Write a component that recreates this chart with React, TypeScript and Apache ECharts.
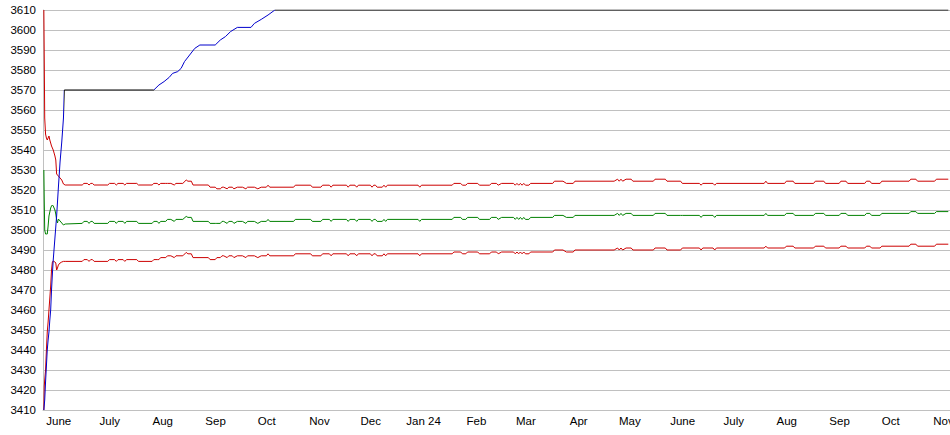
import React, { useEffect, useRef } from 'react';
import * as echarts from 'echarts';

// ---- data ----
const bandDates: string[] = [
  '2023-05-31 12:00', '2023-05-31 18:00', '2023-06-01 00:00', '2023-06-01 12:00', '2023-06-02 00:00', '2023-06-02 12:00', '2023-06-03 00:00', '2023-06-03 12:00', '2023-06-04 00:00', '2023-06-04 12:00',
  '2023-06-05 00:00', '2023-06-05 12:00', '2023-06-06 00:00', '2023-06-06 12:00', '2023-06-07 00:00', '2023-06-07 12:00', '2023-06-08 00:00', '2023-06-08 12:00', '2023-06-09', '2023-06-10',
  '2023-06-11', '2023-06-12', '2023-06-13', '2023-06-23', '2023-06-24', '2023-06-26', '2023-06-27', '2023-06-28', '2023-06-29', '2023-06-30',
  '2023-07-08', '2023-07-09', '2023-07-12', '2023-07-13', '2023-07-14', '2023-07-17', '2023-07-18', '2023-07-19', '2023-07-25', '2023-07-26',
  '2023-08-03', '2023-08-04', '2023-08-06', '2023-08-07', '2023-08-08', '2023-08-11', '2023-08-12', '2023-08-14', '2023-08-16', '2023-08-17',
  '2023-08-21', '2023-08-23', '2023-08-24', '2023-08-26', '2023-08-27', '2023-09-05', '2023-09-06', '2023-09-09', '2023-09-10', '2023-09-12',
  '2023-09-13', '2023-09-14', '2023-09-16', '2023-09-17', '2023-09-19', '2023-09-20', '2023-09-22', '2023-09-25', '2023-09-27', '2023-09-28',
  '2023-10-02', '2023-10-04', '2023-10-06', '2023-10-09', '2023-10-10', '2023-10-11', '2023-10-25', '2023-10-26', '2023-11-04', '2023-11-05',
  '2023-11-10', '2023-11-11', '2023-11-15', '2023-11-16', '2023-11-17', '2023-11-25', '2023-11-26', '2023-11-27', '2023-11-30', '2023-12-01',
  '2023-12-02', '2023-12-09', '2023-12-10', '2023-12-11', '2023-12-12', '2023-12-13', '2023-12-16', '2023-12-17', '2023-12-18', '2023-12-19',
  '2024-01-06', '2024-01-07', '2024-01-08', '2024-01-26', '2024-01-27', '2024-01-31', '2024-02-01', '2024-02-03', '2024-02-04', '2024-02-10',
  '2024-02-11', '2024-02-17', '2024-02-18', '2024-02-21', '2024-02-22', '2024-02-24', '2024-03-02', '2024-03-03', '2024-03-04', '2024-03-05',
  '2024-03-06', '2024-03-07', '2024-03-08', '2024-03-09', '2024-03-11', '2024-03-12', '2024-03-25', '2024-03-26', '2024-03-31', '2024-04-02',
  '2024-04-06', '2024-04-07', '2024-04-30', '2024-05-02', '2024-05-03', '2024-05-04', '2024-05-05', '2024-05-07', '2024-05-10', '2024-05-11',
  '2024-05-23', '2024-05-24', '2024-05-30', '2024-05-31', '2024-06-08', '2024-06-09', '2024-06-19', '2024-06-20', '2024-06-21', '2024-06-27',
  '2024-06-28', '2024-06-29', '2024-07-27', '2024-07-28', '2024-07-29', '2024-08-08', '2024-08-09', '2024-08-13', '2024-08-14', '2024-08-25',
  '2024-08-26', '2024-08-31', '2024-09-01', '2024-09-09', '2024-09-10', '2024-09-13', '2024-09-14', '2024-09-24', '2024-09-25', '2024-09-27',
  '2024-09-28', '2024-10-03', '2024-10-04', '2024-10-20', '2024-10-21', '2024-10-24', '2024-10-25', '2024-11-04', '2024-11-05', '2024-11-12',
];

const upperValues: number[] = [
  3610, 3585, 3556, 3548, 3546, 3545, 3546, 3547, 3545, 3543.5,
  3542, 3541, 3540, 3538.5, 3537, 3535, 3528, 3527.5, 3527, 3526,
  3525, 3523, 3522.5, 3522.5, 3523.3, 3523.3, 3522.5, 3523.3, 3523.3, 3522.5,
  3522.5, 3523.3, 3523.3, 3522.5, 3523.3, 3523.3, 3522.5, 3523.3, 3523.3, 3522.5,
  3522.5, 3523.3, 3523.3, 3522.5, 3523.3, 3523.3, 3523.3, 3523.3, 3522.5, 3523.3,
  3523.3, 3525, 3524.4, 3524.4, 3522.5, 3522.5, 3521.4, 3521.4, 3520.6, 3520.6,
  3521.4, 3521.4, 3520.6, 3521.4, 3521.4, 3520.6, 3521.4, 3521.4, 3520.6, 3521.4,
  3521.4, 3520.6, 3521.4, 3521.4, 3522.4, 3521.4, 3521.4, 3522.4, 3522.4, 3521.4,
  3521.4, 3522.4, 3522.4, 3521.4, 3522.4, 3522.4, 3521.4, 3522.4, 3522.4, 3521.4,
  3522.4, 3522.4, 3521.4, 3522.4, 3522.4, 3521.4, 3521.4, 3522.4, 3521.4, 3522.4,
  3522.4, 3521.4, 3522.4, 3522.4, 3523.3, 3523.3, 3522.4, 3522.4, 3523.3, 3523.3,
  3522.4, 3522.4, 3523.3, 3523.3, 3522.4, 3523.3, 3523.3, 3522.4, 3523.3, 3522.4,
  3523.3, 3522.4, 3523.3, 3522.4, 3522.4, 3523.3, 3523.3, 3524.4, 3524.4, 3523.3,
  3523.3, 3524.4, 3524.4, 3525.4, 3524.4, 3525.4, 3524.4, 3525.4, 3525.4, 3524.4,
  3524.4, 3525.4, 3525.4, 3524.4, 3524.4, 3523.3, 3523.3, 3522.4, 3523.3, 3523.3,
  3522.4, 3523.3, 3523.3, 3524.4, 3523.3, 3523.3, 3524.4, 3524.4, 3523.3, 3523.3,
  3524.4, 3524.4, 3523.3, 3523.3, 3524.4, 3524.4, 3523.3, 3523.3, 3524.4, 3524.4,
  3523.3, 3523.3, 3524.4, 3524.4, 3525.4, 3525.4, 3524.4, 3524.4, 3525.4, 3525.4,
];

const midValues: number[] = [
  3530, 3514, 3500, 3498, 3498, 3498, 3502, 3507, 3509, 3511,
  3512, 3512.5, 3512, 3511, 3510, 3508, 3505, 3503.5, 3505.5, 3504.5,
  3503.5, 3502.5, 3503, 3503.3, 3504.3, 3504.3, 3503.3, 3504.3, 3504.3, 3503.3,
  3503.3, 3504.3, 3504.3, 3503.3, 3504.3, 3504.3, 3503.3, 3504.3, 3504.3, 3503.3,
  3503.3, 3504.3, 3504.3, 3503.3, 3504.3, 3504.3, 3505.3, 3505.3, 3504.3, 3505.3,
  3505.3, 3506.8, 3506.3, 3506.3, 3504.3, 3504.3, 3503.3, 3503.3, 3503.3, 3503.3,
  3504.3, 3504.3, 3503.3, 3504.3, 3504.3, 3503.3, 3504.3, 3504.3, 3503.3, 3504.3,
  3504.3, 3503.3, 3504.3, 3504.3, 3505.3, 3504.3, 3504.3, 3505.3, 3505.3, 3504.3,
  3504.3, 3505.3, 3505.3, 3504.3, 3505.3, 3505.3, 3504.3, 3505.3, 3505.3, 3504.3,
  3505.3, 3505.3, 3504.3, 3505.3, 3505.3, 3504.3, 3504.3, 3505.3, 3504.3, 3505.3,
  3505.3, 3504.3, 3505.3, 3505.3, 3506.3, 3506.3, 3505.3, 3505.3, 3506.3, 3506.3,
  3505.3, 3505.3, 3506.3, 3506.3, 3505.3, 3506.3, 3506.3, 3505.3, 3506.3, 3505.3,
  3506.3, 3505.3, 3506.3, 3505.3, 3505.3, 3506.3, 3506.3, 3507.3, 3507.3, 3506.3,
  3506.3, 3507.3, 3507.3, 3508.3, 3507.3, 3508.3, 3507.3, 3508.3, 3508.3, 3507.3,
  3507.3, 3508.3, 3508.3, 3507.3, 3507.3, 3507.3, 3507.3, 3506.3, 3507.3, 3507.3,
  3506.3, 3507.3, 3507.3, 3508.3, 3507.3, 3507.3, 3508.3, 3508.3, 3507.3, 3507.3,
  3508.3, 3508.3, 3507.3, 3507.3, 3508.3, 3508.3, 3507.3, 3507.3, 3508.3, 3508.3,
  3507.3, 3507.3, 3508.3, 3508.3, 3509.2, 3509.2, 3508.3, 3508.3, 3509.2, 3509.2,
];

const lowerValues: number[] = [
  3410, 3422, 3425, 3430, 3440, 3449, 3454, 3460, 3466, 3472,
  3480, 3484, 3484.5, 3484.3, 3484, 3483.5, 3480, 3481, 3482.5, 3483.5,
  3484, 3484.3, 3484.3, 3484.3, 3485.2, 3485.2, 3484.3, 3485.2, 3485.2, 3484.3,
  3484.3, 3485.2, 3485.2, 3484.3, 3485.2, 3485.2, 3484.3, 3485.2, 3485.2, 3484.3,
  3484.3, 3485.2, 3485.2, 3485.2, 3486.2, 3486.2, 3487.1, 3487.1, 3486.2, 3487.1,
  3487.1, 3488.8, 3488.1, 3488.1, 3486.2, 3486.2, 3485.2, 3485.2, 3486.2, 3486.2,
  3487.1, 3487.1, 3486.2, 3487.1, 3487.1, 3486.2, 3487.1, 3487.1, 3486.2, 3487.1,
  3487.1, 3486.2, 3487.1, 3487.1, 3488.1, 3487.1, 3487.1, 3488.1, 3488.1, 3487.1,
  3487.1, 3488.1, 3488.1, 3487.1, 3488.1, 3488.1, 3487.1, 3488.1, 3488.1, 3487.1,
  3488.1, 3488.1, 3487.1, 3488.1, 3488.1, 3487.1, 3487.1, 3488.1, 3487.1, 3488.1,
  3488.1, 3487.1, 3488.1, 3488.1, 3489, 3489, 3488.1, 3488.1, 3489, 3489,
  3488.1, 3488.1, 3489, 3489, 3488.1, 3489, 3489, 3488.1, 3489, 3488.1,
  3489, 3488.1, 3489, 3488.1, 3488.1, 3489, 3489, 3490, 3490, 3489,
  3489, 3490, 3490, 3491, 3490, 3491, 3490, 3491, 3491, 3490,
  3490, 3491, 3491, 3490, 3490, 3491, 3491, 3490, 3491, 3491,
  3490, 3491, 3491, 3491.9, 3491, 3491, 3491.9, 3491.9, 3491, 3491,
  3491.9, 3491.9, 3491, 3491, 3491.9, 3491.9, 3491, 3491, 3491.9, 3491.9,
  3491, 3491, 3491.9, 3491.9, 3492.9, 3492.9, 3491.9, 3491.9, 3492.9, 3492.9,
];

const maxDates: string[] = [
  '2023-05-31 12:00', '2023-06-01 00:00', '2023-06-01 12:00', '2023-06-02 00:00', '2023-06-02 12:00', '2023-06-03 00:00', '2023-06-03 12:00', '2023-06-04 00:00', '2023-06-04 12:00', '2023-06-05 00:00',
  '2023-06-05 12:00', '2023-06-06', '2023-06-07', '2023-06-08', '2023-06-09', '2023-06-10', '2023-06-11', '2023-06-12', '2023-06-12 12:00',
  '2023-08-04', '2023-08-07', '2023-08-10', '2023-08-13', '2023-08-15', '2023-08-18', '2023-08-20', '2023-08-22', '2023-08-25', '2023-08-28',
  '2023-08-31', '2023-09-09', '2023-09-12', '2023-09-15', '2023-09-18', '2023-09-22', '2023-09-30', '2023-10-02', '2023-10-06', '2023-10-10',
  '2023-10-14', '2024-11-12',
];
const maxValues: number[] = [
  3410, 3415, 3424, 3432, 3440, 3445, 3449, 3455, 3460, 3470,
  3478, 3485, 3496, 3507, 3521, 3534, 3544, 3556, 3570,
  3570, 3572.5, 3574.2, 3576.3, 3578.3, 3579.2, 3580.8, 3584.2, 3587.5, 3590.8,
  3592.5, 3592.5, 3595, 3596.7, 3599.2, 3601.3, 3601.3, 3603.3, 3605.3, 3607.5,
  3610, 3610,
];

// periods where the running maximum is rising (drawn blue), otherwise black
const risingPeriods: [string, string][] = [
  ['2023-05-31 00:00', '2023-06-12 12:00'],
  ['2023-08-04', '2023-10-14'],
];

const monthNames = ['Jan', 'Feb', 'Mar', 'Apr', 'May', 'June', 'July', 'Aug', 'Sep', 'Oct', 'Nov', 'Dec'];
const xRange = ['2023-05-31', '2024-11-13'];
const yRange = [3410, 3610];
const yStep = 10;

const COLORS = {
  upper: '#cc0000',
  mid: '#008000',
  lower: '#cc0000',
  rising: '#0000cc',
  flat: '#000000',
  grid: '#c0c0c0',
  text: '#000000',
};
const FONT = 'Arial, "Liberation Sans", sans-serif';

function ts(s: string): number {
  const [d, t] = s.split(' ');
  const [y, m, day] = d.split('-').map(Number);
  let h = 0;
  let mi = 0;
  if (t) {
    const p = t.split(':').map(Number);
    h = p[0];
    mi = p[1] || 0;
  }
  return new Date(y, m - 1, day, h, mi).getTime();
}

function pairs(dates: string[], values: number[]) {
  return dates.map((d, i) => [ts(d), values[i]]);
}

export default function App() {
  const ref = useRef<HTMLDivElement>(null);
  useEffect(() => {
    if (!ref.current) return;
    const chart = echarts.init(ref.current, null, { renderer: 'svg' });
    const DAY = 86400000;
    const lineBase = {
      type: 'line',
      showSymbol: false,
      symbol: 'none',
      silent: true,
      z: 2,
    };
    const pieces: any[] = [];
    let cursor: number | null = null;
    risingPeriods.forEach(([a, b]) => {
      const s = ts(a);
      const e = ts(b);
      if (cursor === null) {
        pieces.push({ lt: e, color: COLORS.rising });
      } else {
        pieces.push({ gte: cursor, lt: s, color: COLORS.flat });
        pieces.push({ gte: s, lt: e, color: COLORS.rising });
      }
      cursor = e;
    });
    pieces.push({ gte: cursor, color: COLORS.flat });

    chart.setOption({
      animation: false,
      backgroundColor: '#ffffff',
      grid: { left: 43, right: 0, top: 10, bottom: 25, containLabel: false, outerBoundsMode: 'none' },
      xAxis: {
        type: 'time',
        min: ts(xRange[0]),
        max: ts(xRange[1]),
        splitNumber: 18,
        minInterval: 28 * DAY,
        maxInterval: 31 * DAY,
        axisLine: { show: true, lineStyle: { color: COLORS.grid, width: 1 } },
        axisTick: { show: false },
        splitLine: { show: false },
        axisLabel: {
          color: COLORS.text,
          fontFamily: FONT,
          fontSize: 11.5,
          margin: 5,
          align: 'center',
          padding: [0, 0, 0, 28],
          hideOverlap: false,
          showMinLabel: true,
          showMaxLabel: true,
          formatter: (v: number) => {
            const d = new Date(v);
            if (d.getDate() !== 1 || d.getHours() !== 0) return '';
            const m = d.getMonth();
            if (m === 0) return 'Jan ' + String(d.getFullYear()).slice(2);
            return monthNames[m];
          },
        },
      },
      yAxis: {
        type: 'value',
        min: yRange[0],
        max: yRange[1],
        interval: yStep,
        axisLine: { show: true, lineStyle: { color: COLORS.grid, width: 1 } },
        axisTick: { show: false },
        splitLine: { show: true, lineStyle: { color: COLORS.grid, width: 1 } },
        axisLabel: {
          color: COLORS.text,
          fontFamily: FONT,
          fontSize: 11.5,
          margin: 7,
          formatter: (v: number) => String(v),
        },
      },
      visualMap: {
        show: false,
        type: 'piecewise',
        seriesIndex: 3,
        dimension: 0,
        pieces,
      },
      series: [
        { ...lineBase, name: 'upper', data: pairs(bandDates, upperValues), lineStyle: { color: COLORS.upper, width: 1 }, itemStyle: { color: COLORS.upper } },
        { ...lineBase, name: 'mid', data: pairs(bandDates, midValues), lineStyle: { color: COLORS.mid, width: 1 }, itemStyle: { color: COLORS.mid } },
        { ...lineBase, name: 'lower', data: pairs(bandDates, lowerValues), lineStyle: { color: COLORS.lower, width: 1 }, itemStyle: { color: COLORS.lower } },
        { ...lineBase, name: 'max', data: pairs(maxDates, maxValues), lineStyle: { width: 1 }, z: 3 },
      ],
    });
    return () => chart.dispose();
  }, []);
  return (
    <div
      ref={ref}
      style={{ position: 'fixed', left: 0, top: 0, width: 950, height: 435, background: '#ffffff' }}
    />
  );
}
